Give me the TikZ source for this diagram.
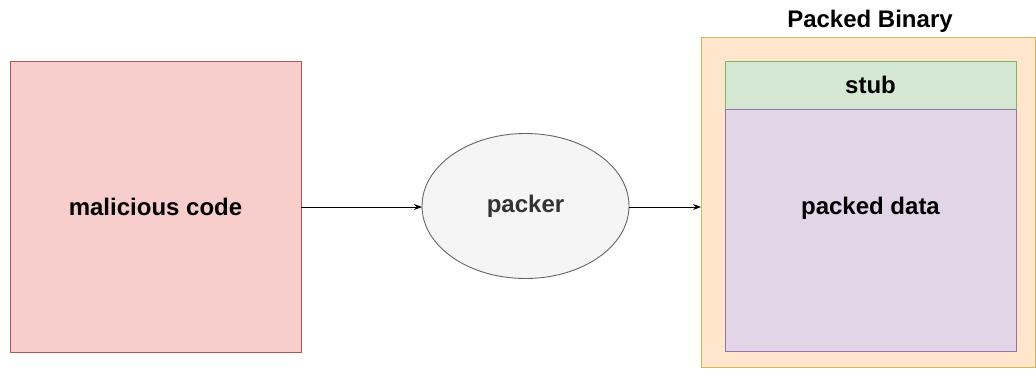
\documentclass[tikz,border=0pt]{standalone}
\usepackage{fontspec}
\setmainfont{Liberation Sans}
\usetikzlibrary{shapes.geometric,arrows.meta}
\definecolor{redfill}{HTML}{F8CECC}
\definecolor{redline}{HTML}{B85450}
\definecolor{greyfill}{HTML}{F5F5F5}
\definecolor{greyline}{HTML}{666666}
\definecolor{greytext}{HTML}{333333}
\definecolor{orfill}{HTML}{FFE6CC}
\definecolor{orline}{HTML}{D6B656}
\definecolor{grfill}{HTML}{D5E8D4}
\definecolor{grline}{HTML}{82B366}
\definecolor{pufill}{HTML}{E1D5E7}
\definecolor{puline}{HTML}{9673A6}
\tikzset{
  lbl/.style={font=\fontsize{24}{27}\selectfont\bfseries},
  box/.style={draw, line width=0.9pt, inner sep=0pt, outer sep=0pt},
  conn/.style={-{Stealth[length=8pt,width=6pt]}, line width=0.9pt, black}
}
\begin{document}
\begin{tikzpicture}[x=1pt,y=-1pt]
\useasboundingbox (0,0) rectangle (1036,377);
\node[box, fill=redfill, draw=redline, minimum width=291pt, minimum height=291pt, lbl] (mal) at (155.5,206.5) {malicious code};
\node[ellipse, box, fill=greyfill, draw=greyline, minimum width=207pt, minimum height=145pt, lbl, text=greytext] (pk) at (525.5,206) {packer};
\node[box, fill=orfill, draw=orline, minimum width=334pt, minimum height=330pt] (bin) at (868,202) {};
\node[lbl, anchor=base] (title) at (870,28) {Packed Binary};
\node[box, fill=grfill, draw=grline, minimum width=291pt, minimum height=48pt, lbl] (stub) at (870.5,85) {stub};
\node[box, fill=pufill, draw=puline, minimum width=291pt, minimum height=242pt, anchor=north, lbl] (data) at (870.5,109) {};
\node[lbl] (dlabel) at (870.5,208) {packed data};
\draw[conn] (mal.east |- 0,207) coordinate (a1) -- (pk.west |- a1);
\draw[conn] (pk.east |- 0,207) coordinate (a2) -- (bin.west |- a2);
\end{tikzpicture}
\end{document}
